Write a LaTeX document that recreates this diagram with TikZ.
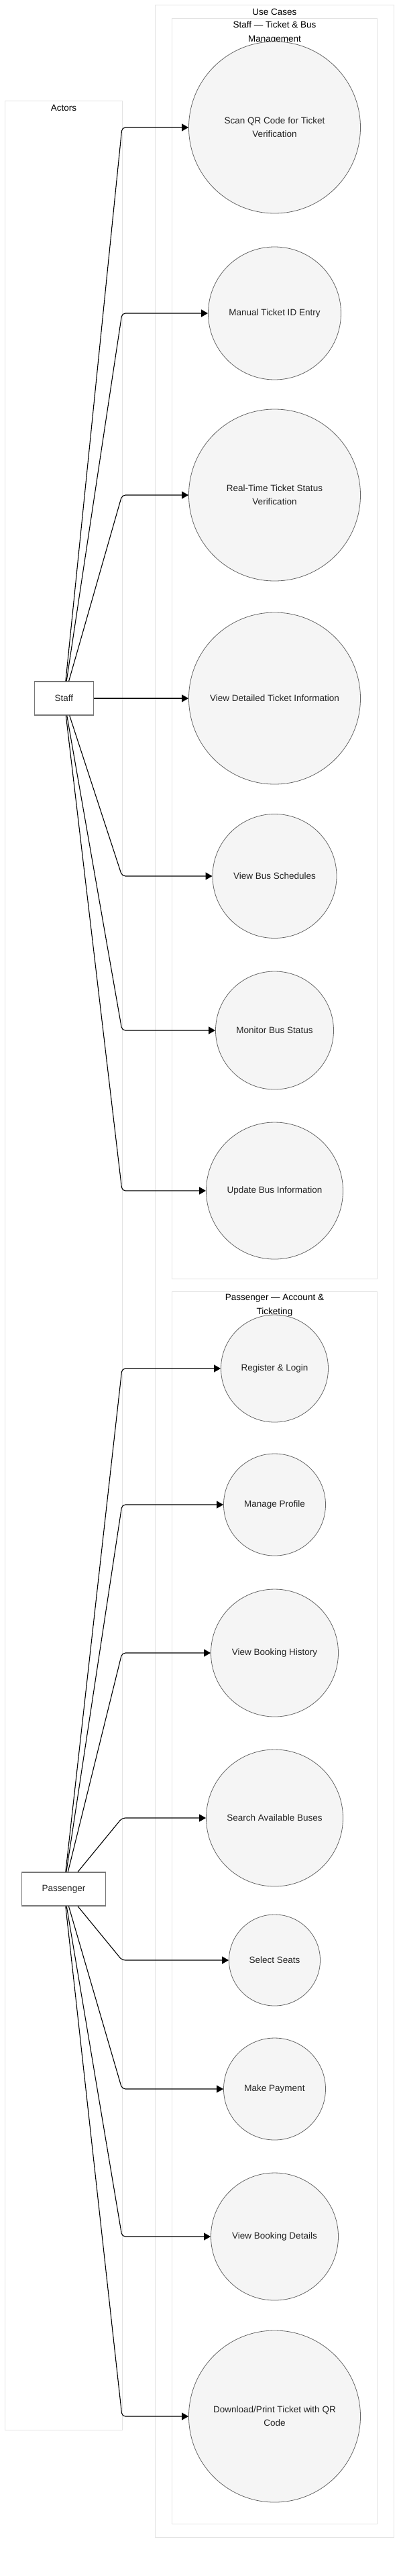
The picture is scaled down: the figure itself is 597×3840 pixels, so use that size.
\documentclass[tikz,border=0pt]{standalone}
\usepackage{fontspec}
\setmainfont{Liberation Sans}
\usetikzlibrary{arrows.meta}
\definecolor{grpc}{HTML}{E3E3E3}
\definecolor{ucs}{HTML}{666666}
\definecolor{ucf}{HTML}{F5F5F5}
\definecolor{txt}{HTML}{222222}
\definecolor{actc}{HTML}{777777}
\tikzset{
  grp/.style={draw=grpc, line width=1pt},
  lbl/.style={font={\fontsize{13.5}{21}\selectfont}, align=center, text=black, inner sep=0pt},
  uc/.style={circle, draw=ucs, fill=ucf, line width=0.8pt, inner sep=0pt, align=center,
    font={\fontsize{13.5}{20}\selectfont}, text=txt},
  actor/.style={rectangle, draw=actc, fill=white, line width=1.3pt, minimum height=50pt,
    inner sep=0pt, font={\fontsize{13.5}{20}\selectfont}, text=txt},
  conn/.style={line width=1.1pt, draw=black, rounded corners=5pt, -{Triangle[length=10pt,width=11pt]}},
}
\begin{document}
\begin{tikzpicture}[x=1pt,y=-1pt]
\useasboundingbox (0,0) rectangle (597,3840);
% containers
\draw[grp] (231.5,7.7) rectangle (587,3782);
\draw[grp] (7.7,151) rectangle (182.3,3622);
\draw[grp] (256,27.7) rectangle (562,1906);
\draw[grp] (256,1925.7) rectangle (562,3762);
\node[lbl] (lucs) at (409.5,17.7) {Use Cases};
\node[lbl] (lact) at (95,161) {Actors};
\node[lbl] (lstf) at (409.5,48.2) {Staff — Ticket \& Bus\\Management};
\node[lbl] (lpas) at (409.5,1946.2) {Passenger — Account \&\\Ticketing};
% actors
\node[actor, minimum width=88pt] (staff) at (95.3,1041) {Staff};
\node[actor, minimum width=125.5pt] (pass) at (95,2816) {Passenger};
% staff use cases
\node[uc, minimum size=256pt] (scan) at (409.5,190) {Scan QR Code for Ticket\\Verification};
\node[uc, minimum size=198pt] (manual) at (409.5,467) {Manual Ticket ID Entry};
\node[uc, minimum size=256pt] (rt) at (409.5,738) {Real-Time Ticket Status\\Verification};
\node[uc, minimum size=256pt] (vdti) at (409.5,1041) {View Detailed Ticket Information};
\node[uc, minimum size=185pt] (vbs) at (409.5,1306) {View Bus Schedules};
\node[uc, minimum size=176pt] (mbs) at (409.5,1536) {Monitor Bus Status};
\node[uc, minimum size=204pt] (ubi) at (409.5,1775) {Update Bus Information};
% passenger use cases
\node[uc, minimum size=160pt] (reg) at (409.5,2040) {Register \& Login};
\node[uc, minimum size=152pt] (prof) at (409.5,2243) {Manage Profile};
\node[uc, minimum size=190pt] (hist) at (409.5,2464) {View Booking History};
\node[uc, minimum size=204pt] (search) at (409.5,2710) {Search Available Buses};
\node[uc, minimum size=136pt] (seats) at (409.5,2922) {Select Seats};
\node[uc, minimum size=152pt] (pay) at (409.5,3114) {Make Payment};
\node[uc, minimum size=190pt] (det) at (409.5,3334) {View Booking Details};
\node[uc, minimum size=256pt] (dl) at (409.5,3602) {Download/Print Ticket with QR\\Code};
% bend column
\coordinate (bx) at (182,0);
% staff connectors
\draw[conn] (staff) -- (bx |- scan) -- (scan);
\draw[conn] (staff) -- (bx |- manual) -- (manual);
\draw[conn] (staff) -- (bx |- rt) -- (rt);
\draw[conn] (staff) -- (vdti);
\draw[conn] (staff) -- (bx |- vbs) -- (vbs);
\draw[conn] (staff) -- (bx |- mbs) -- (mbs);
\draw[conn] (staff) -- (bx |- ubi) -- (ubi);
% passenger connectors
\draw[conn] (pass) -- (bx |- reg) -- (reg);
\draw[conn] (pass) -- (bx |- prof) -- (prof);
\draw[conn] (pass) -- (bx |- hist) -- (hist);
\draw[conn] (pass) -- (bx |- search) -- (search);
\draw[conn] (pass) -- (bx |- seats) -- (seats);
\draw[conn] (pass) -- (bx |- pay) -- (pay);
\draw[conn] (pass) -- (bx |- det) -- (det);
\draw[conn] (pass) -- (bx |- dl) -- (dl);
\end{tikzpicture}
\end{document}
